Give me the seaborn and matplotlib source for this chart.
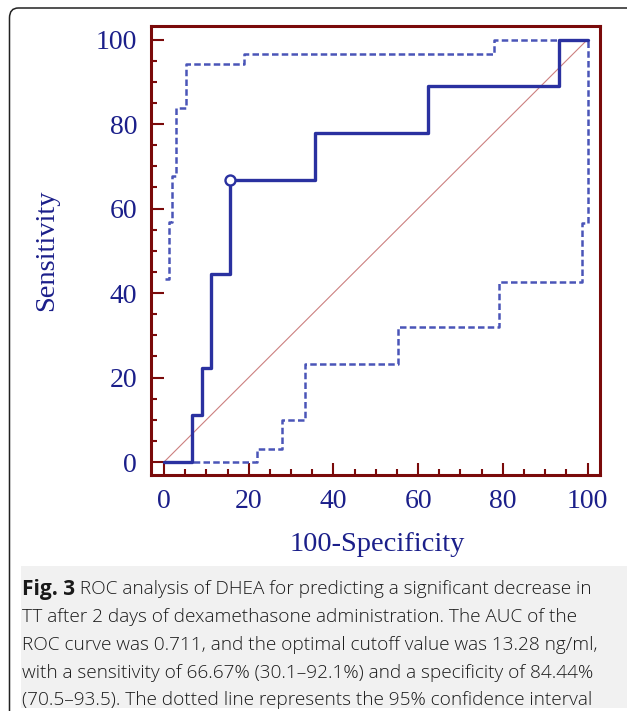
import matplotlib
matplotlib.use("Agg")
import matplotlib.pyplot as plt
from matplotlib.ticker import MultipleLocator
from matplotlib.patches import FancyBboxPatch, Rectangle
import seaborn as sns

# ---- data ----
roc_fpr = [0, 6.67, 8.89, 11.11, 15.56, 35.56, 62.22, 93.33, 100]
roc_tpr = [0, 11.11, 22.22, 44.44, 66.67, 77.78, 88.89, 100, 100]

upper_fpr = [0.3, 1.2, 2.0, 2.8, 5.1, 19.0, 78.0, 100]
upper_tpr = [43.4, 56.8, 67.6, 83.8, 94.1, 96.6, 100, 100]

lower_fpr = [0, 21.9, 27.8, 33.3, 55.2, 79.1, 98.8, 100]
lower_tpr = [0, 3.0, 9.9, 23.2, 32.0, 42.6, 56.6, 100]

diag = [0, 100]
cutoff_fpr = [15.56]
cutoff_tpr = [66.67]

tick_vals = [0, 20, 40, 60, 80, 100]
xlabel = "100-Specificity"
ylabel = "Sensitivity"
caption_bold = "Fig. 3"
caption_lines = [
    " ROC analysis of DHEA for predicting a significant decrease in",
    "TT after 2 days of dexamethasone administration. The AUC of the",
    "ROC curve was 0.711, and the optimal cutoff value was 13.28 ng/ml,",
    "with a sensitivity of 66.67% (30.1\u201392.1%) and a specificity of 84.44%",
    "(70.5\u201393.5). The dotted line represents the 95% confidence interval",
]

# ---- style ----
sns.set_style("white")
plt.rcParams["font.family"] = ["Liberation Serif", "DejaVu Serif"]

W, H = 627, 711
fig = plt.figure(figsize=(W / 100, H / 100), dpi=100)

# outer rounded border (top-left corner visible, rest runs off the page)
border = FancyBboxPatch((9.5 / W, -0.1), 1.2, 1.1 - 8 / H,
                        boxstyle="round,pad=0,rounding_size=0.014",
                        transform=fig.transFigure, fill=False,
                        edgecolor="#222222", linewidth=1.1, clip_on=False)
fig.patches.append(border)

# caption background
cap_bg = Rectangle((21 / W, 1 - 708 / H), (W - 21) / W, (708 - 566) / H,
                   transform=fig.transFigure, facecolor="#f1f1f1",
                   edgecolor="none")
fig.patches.append(cap_bg)

ax = fig.add_axes([151 / W, 1 - 475 / H, 449 / W, 449 / H])

maroon = "#7a0a0a"
navy = "#1b1f8a"
roc_col = "#2a31a0"
ci_col = "#4a55b8"

sns.lineplot(x=diag, y=diag, ax=ax, color="#cc8080", linewidth=0.8,
             sort=False, estimator=None)
sns.lineplot(x=lower_fpr, y=lower_tpr, ax=ax, color=ci_col, linewidth=1.8,
             drawstyle="steps-post", sort=False, estimator=None)
ax.lines[-1].set_dashes((2.6, 1.3))
sns.lineplot(x=upper_fpr, y=upper_tpr, ax=ax, color=ci_col, linewidth=1.8,
             drawstyle="steps-post", sort=False, estimator=None)
ax.lines[-1].set_dashes((2.6, 1.3))
sns.lineplot(x=roc_fpr, y=roc_tpr, ax=ax, color=roc_col, linewidth=2.4,
             drawstyle="steps-post", sort=False, estimator=None)
sns.scatterplot(x=cutoff_fpr, y=cutoff_tpr, ax=ax, marker="o",
                facecolor="white", edgecolor=roc_col, linewidth=1.7,
                s=52, zorder=5)

ax.set_xlim(-3.07, 102.95)
ax.set_ylim(-3.07, 103.2)
ax.set_xticks(tick_vals)
ax.set_yticks(tick_vals)
ax.set_xticklabels([str(v) for v in tick_vals])
ax.set_yticklabels([str(v) for v in tick_vals])
ax.xaxis.set_minor_locator(MultipleLocator(5))
ax.yaxis.set_minor_locator(MultipleLocator(5))
ax.tick_params(which="major", direction="in", length=9, width=1.5,
               color=maroon, labelsize=20, labelcolor=navy, pad=10,
               bottom=True, left=True, top=False, right=False)
ax.tick_params(which="minor", direction="in", length=4.3, width=1.5,
               color=maroon, bottom=True, left=True, top=False, right=False)
for s in ax.spines.values():
    s.set_color(maroon)
    s.set_linewidth(2.2)
    s.set_visible(True)

ax.set_xlabel(xlabel, fontsize=20.5, color=navy)
ax.set_ylabel(ylabel, fontsize=20.5, color=navy)
ax.xaxis.set_label_coords(0.503, -0.155)
ax.yaxis.set_label_coords(-0.232, 0.50)
ax.xaxis.label.set_va("center")
ax.yaxis.label.set_va("center")

# caption
cap_font = ["Open Sans", "DejaVu Sans"]
cap_size = 13.7
cap_col = "#1a1a1a"
line_y = [589, 617, 645, 673, 700]
x0 = 22 / W
fig.canvas.draw()
rend = fig.canvas.get_renderer()
tb = fig.text(x0, 1 - line_y[0] / H, caption_bold, family=cap_font,
              fontweight="bold", fontsize=15.0, color=cap_col,
              va="center", ha="left")
bb = tb.get_window_extent(renderer=rend)
fig.text(bb.x1 / W, 1 - line_y[0] / H, caption_lines[0], family=cap_font,
         fontweight="light", fontsize=cap_size, color=cap_col,
         va="center", ha="left")
for yy, line in zip(line_y[1:], caption_lines[1:]):
    fig.text(x0, 1 - yy / H, line, family=cap_font, fontweight="light",
             fontsize=cap_size, color=cap_col, va="center", ha="left")

fig.savefig("out.png", dpi=100)
